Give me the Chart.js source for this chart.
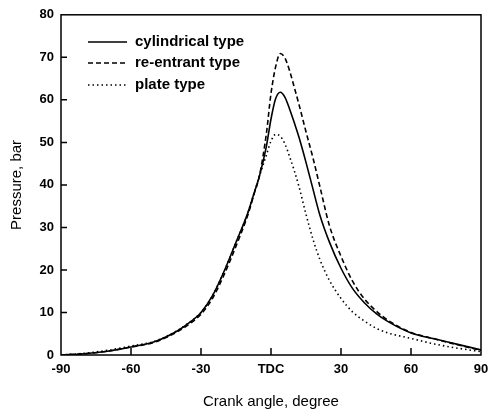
<!DOCTYPE html>
<html>
<head>
<meta charset="utf-8">
<script src="https://cdn.jsdelivr.net/npm/chart.js@4/dist/chart.umd.min.js"></script>
<style>
  html, body { margin: 0; padding: 0; background: #fff; }
  #wrap { width: 489px; height: 416px; }
</style>
</head>
<body>
<div id="wrap"><canvas id="chart" width="489" height="416"></canvas></div>
<script>
// crank angle, degree
const angles = [-90, -80, -70, -60, -50, -40, -35, -30, -25, -20, -15, -10, -7, -5, -2, 0, 2, 4, 6, 8, 10, 12, 15, 18, 21, 25, 30, 35, 40, 45, 50, 60, 70, 80, 90];

// pressure, bar
const cylindrical = [0, 0.3, 0.9, 1.9, 3.1, 5.7, 7.6, 10.0, 14.0, 19.8, 26.5, 33.3, 38.5, 42, 49, 55.5, 60.3, 61.8, 60.6, 57.8, 54.6, 51.2, 45.3, 39, 32.8, 26.6, 20.4, 15.6, 12.3, 9.8, 7.9, 5.2, 3.8, 2.5, 1.2];
const reentrant = [0, 0.3, 0.9, 1.9, 3.0, 5.5, 7.3, 9.6, 13.4, 19.0, 25.6, 32.8, 38.3, 42, 52, 61.5, 67.8, 70.9, 69.8, 66.8, 62.9, 58.9, 52.5, 46.3, 39.5, 30.5, 23.2, 17.3, 13.2, 10.4, 8.2, 5.3, 3.8, 2.4, 1.1];
const plate = [0, 0.4, 1.1, 2.1, 3.2, 5.8, 7.7, 10.0, 14.0, 19.8, 26.5, 33.3, 38.5, 42, 47, 50.3, 51.9, 51.4, 49.6, 46.6, 43.3, 39.6, 33.1, 27.2, 22.4, 17.6, 13.3, 10.1, 8.0, 6.3, 5.2, 3.9, 2.6, 1.6, 0.8];

const xTicks = [-90, -60, -30, 0, 30, 60, 90];
const xTickLabels = ["-90", "-60", "-30", "TDC", "30", "60", "90"];

function toPoints(values) {
    return angles.map((a, i) => ({ x: a, y: values[i] }));
}

// frame, inward ticks and the legend inside the plot
const framePlugin = {
    id: "frame",
    afterDraw(chart) {
        const ctx = chart.ctx;
        const area = chart.chartArea;
        const xs = chart.scales.x;
        const ys = chart.scales.y;
        ctx.save();
        ctx.strokeStyle = "#000";
        ctx.lineWidth = 1.5;
        ctx.strokeRect(area.left, area.top, area.right - area.left, area.bottom - area.top);

        ctx.beginPath();
        for (let v = 10; v < 80; v += 10) {
            let py = ys.getPixelForValue(v);
            ctx.moveTo(area.left, py);
            ctx.lineTo(area.left + 6, py);
        }
        for (let v = -60; v <= 60; v += 30) {
            let px = xs.getPixelForValue(v);
            ctx.moveTo(px, area.bottom);
            ctx.lineTo(px, area.bottom - 7);
        }
        ctx.stroke();

        // legend
        let rowY = [42, 63, 85];
        ctx.font = "bold 15px 'Liberation Sans', Arial, sans-serif";
        ctx.textBaseline = "middle";
        ctx.fillStyle = "#000";
        chart.data.datasets.forEach((ds, i) => {
            ctx.beginPath();
            ctx.lineWidth = ds.borderWidth;
            ctx.setLineDash(ds.borderDash || []);
            ctx.moveTo(88, rowY[i]);
            ctx.lineTo(127, rowY[i]);
            ctx.stroke();
            ctx.setLineDash([]);
            ctx.fillText(ds.label, 135, rowY[i]);
        });
        ctx.restore();
    }
};

const ctx = document.getElementById("chart").getContext("2d");
new Chart(ctx, {
    type: "line",
    data: {
        datasets: [
            {
                label: "cylindrical type",
                data: toPoints(cylindrical),
                borderColor: "#000",
                borderWidth: 1.6,
                pointRadius: 0,
                cubicInterpolationMode: "monotone"
            },
            {
                label: "re-entrant type",
                data: toPoints(reentrant),
                borderColor: "#000",
                borderWidth: 1.6,
                borderDash: [5, 3],
                pointRadius: 0,
                cubicInterpolationMode: "monotone"
            },
            {
                label: "plate type",
                data: toPoints(plate),
                borderColor: "#000",
                borderWidth: 1.6,
                borderDash: [1.5, 3],
                pointRadius: 0,
                cubicInterpolationMode: "monotone"
            }
        ]
    },
    options: {
        responsive: false,
        animation: false,
        layout: { padding: { left: 0, top: 13, right: 0, bottom: 0 } },
        plugins: {
            legend: { display: false },
            tooltip: { enabled: false }
        },
        scales: {
            x: {
                type: "linear",
                min: -90,
                max: 90,
                afterBuildTicks: (scale) => { scale.ticks = xTicks.map(v => ({ value: v })); },
                afterFit: (scale) => { scale.height = 61; scale.paddingRight = 8; },
                grid: { display: false, drawTicks: false },
                border: { display: false },
                ticks: {
                    padding: 7,
                    color: "#000",
                    maxRotation: 0,
                    font: { family: "'Liberation Sans', Arial, sans-serif", size: 13, weight: "bold" },
                    callback: (v) => xTickLabels[xTicks.indexOf(v)]
                },
                title: {
                    display: true,
                    text: "Crank angle, degree",
                    color: "#000",
                    padding: { top: 0, bottom: 5 },
                    font: { family: "'Liberation Sans', Arial, sans-serif", size: 15 }
                }
            },
            y: {
                min: 0,
                max: 80,
                afterFit: (scale) => { scale.width = 61; },
                grid: { display: false, drawTicks: false },
                border: { display: false },
                ticks: {
                    stepSize: 10,
                    padding: 7,
                    color: "#000",
                    font: { family: "'Liberation Sans', Arial, sans-serif", size: 13, weight: "bold" }
                },
                title: {
                    display: true,
                    text: "Pressure, bar",
                    color: "#000",
                    padding: { top: 8, bottom: 0 },
                    font: { family: "'Liberation Sans', Arial, sans-serif", size: 15 }
                }
            }
        }
    },
    plugins: [framePlugin]
});
</script>
</body>
</html>
